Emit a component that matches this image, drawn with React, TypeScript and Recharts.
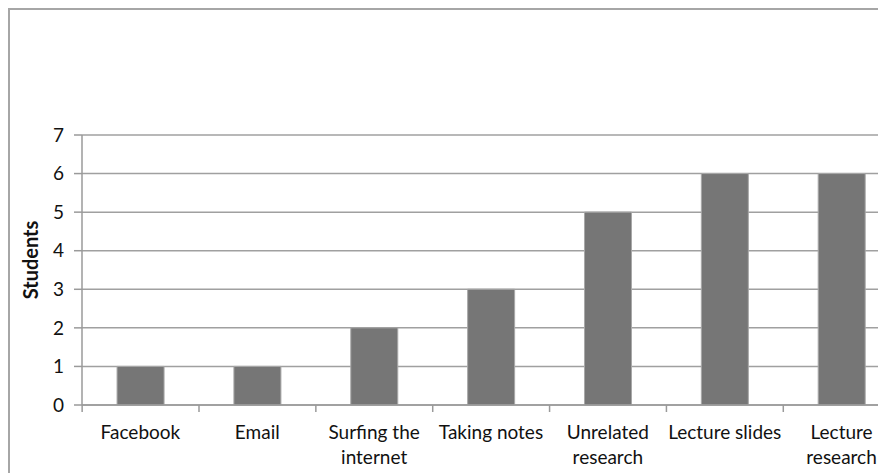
import { BarChart, Bar, XAxis, YAxis, CartesianGrid, Label } from 'recharts'

const categories = ['Facebook', 'Email', 'Surfing the internet', 'Taking notes', 'Unrelated research', 'Lecture slides', 'Lecture research']
const tickLines: string[][] = [
  ['Facebook'],
  ['Email'],
  ['Surfing the', 'internet'],
  ['Taking notes'],
  ['Unrelated', 'research'],
  ['Lecture slides'],
  ['Lecture', 'research'],
]
const students = [1, 1, 2, 3, 5, 6, 6]
const yTicks = [0, 1, 2, 3, 4, 5, 6, 7]

const data = categories.map((c, i) => ({ name: c, students: students[i] }))

const FONT = 'Lato, "Open Sans", sans-serif'
const HALF_BAND = 816 / 7 / 2

function CatTick(props: any) {
  const { x, y, index } = props
  const lines = tickLines[index] ?? [String(props.payload.value)]
  return (
    <g>
      <line x1={x - HALF_BAND} x2={x - HALF_BAND} y1={y - 8} y2={y - 1} stroke="#9a9a9a" strokeWidth={1.5} />
      <text textAnchor="middle" fontFamily={FONT} fontSize={19} fill="#111">
        {lines.map((l, i) => (
          <tspan key={i} x={x} y={y + 26 + i * 25}>{l}</tspan>
        ))}
      </text>
    </g>
  )
}

export default function App() {
  return (
    <div style={{ width: 878, height: 465, overflow: 'hidden' }}>
      <div style={{ width: 920, height: 500, border: '2px solid #a6a6a6', boxSizing: 'border-box', background: '#fff' }}>
        <BarChart
          width={900}
          height={480}
          data={data}
          barCategoryGap="30%"
          margin={{ top: 125, right: 10, left: -2, bottom: 0 }}
        >
          <CartesianGrid vertical={false} stroke="#a0a0a0" strokeWidth={1.5} />
          <XAxis
            dataKey="name"
            height={85}
            interval={0}
            tickLine={false}
            axisLine={{ stroke: '#9a9a9a', strokeWidth: 1.5 }}
            tick={<CatTick />}
          />
          <YAxis
            width={74}
            domain={[0, 7]}
            ticks={yTicks}
            interval={0}
            tickSize={8}
            tickMargin={10}
            axisLine={{ stroke: '#9a9a9a', strokeWidth: 1.5 }}
            tickLine={{ stroke: '#9a9a9a', strokeWidth: 1.5 }}
            tick={{ fontFamily: FONT, fontSize: 19, fill: '#111' }}
          >
            <Label
              value="Students"
              angle={-90}
              position="center"
              dx={-14}
              dy={-10}
              style={{ fontFamily: FONT, fontSize: 20, fontWeight: 'bold', fill: '#111' }}
            />
          </YAxis>
          <Bar dataKey="students" fill="#767676" stroke="#a8a8a8" strokeWidth={1} isAnimationActive={false} />
        </BarChart>
      </div>
    </div>
  )
}
